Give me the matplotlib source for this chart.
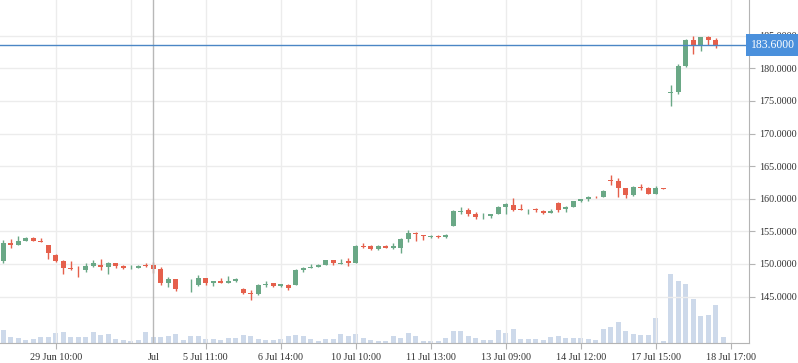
import numpy as np
import matplotlib
matplotlib.use('Agg')
import matplotlib.pyplot as plt
import matplotlib.transforms as mtransforms

plt.rcParams['font.family'] = ['Liberation Serif', 'DejaVu Serif']

# candle data (one row per bar, last bar has volume only)
opens = [150.5, 153.15, 152.9, 153.55, 153.95, 153.5, 152.9, 151.35, 150.45, 149.4,
         149.1, 149.1, 149.7, 149.85, 149.55, 150.15, 149.7, 149.3, 149.4, 149.75,
         149.85, 149.2, 147.0, 147.7, 146.1, 146.7, 146.8, 147.85, 147.1, 147.4,
         147.1, 147.4, 146.15, 145.55, 145.4, 146.8, 147.05, 146.65, 146.8, 146.75,
         149.1, 149.4, 149.55, 149.85, 150.6, 150.05, 150.45, 150.15, 152.8, 152.8,
         152.35, 152.8, 152.45, 152.45, 153.8, 154.8, 154.45, 154.2, 154.35, 154.2,
         155.85, 157.95, 158.2, 157.65, 157.3, 157.4, 157.65, 158.7, 159.1, 158.45,
         158.2, 158.35, 158.15, 157.85, 159.4, 158.4, 158.8, 159.7, 160.0, 160.3,
         160.3, 162.9, 162.7, 161.6, 160.55, 161.8, 161.65, 160.75, 161.65, 176.15,
         176.4, 180.35, 184.3, 183.55, 184.75, 184.3, np.nan]
highs = [153.7, 153.8, 154.3, 154.1, 154.1, 153.9, 152.9, 151.5, 150.6, 150.45,
         149.7, 150.1, 150.65, 150.7, 150.35, 150.2, 149.8, 149.8, 149.9, 150.1,
         150.35, 149.55, 147.95, 147.75, 146.2, 147.7, 148.3, 147.9, 147.45, 147.8,
         148.2, 147.85, 146.35, 146.05, 146.9, 147.35, 147.1, 146.95, 146.9, 149.2,
         149.55, 150.0, 150.05, 150.65, 150.65, 150.75, 150.95, 152.9, 153.2, 152.9,
         152.9, 152.85, 153.25, 154.0, 155.2, 154.85, 154.5, 154.5, 154.5, 154.55,
         158.3, 158.75, 158.5, 158.0, 157.8, 157.7, 158.9, 159.4, 160.1, 159.25,
         158.45, 158.6, 158.25, 158.35, 159.45, 158.95, 159.7, 160.0, 160.45, 160.45,
         161.4, 163.7, 163.2, 161.65, 162.0, 162.25, 161.8, 161.95, 161.65, 177.45,
         180.65, 184.5, 184.95, 184.85, 184.95, 184.6, np.nan]
lows = [150.2, 152.5, 152.9, 153.5, 153.5, 153.35, 150.8, 150.3, 148.5, 149.1,
        148.0, 148.8, 149.5, 149.05, 148.5, 149.45, 149.25, 149.25, 149.3, 149.5,
        148.65, 146.75, 146.5, 145.85, 146.1, 145.75, 146.6, 146.75, 146.65, 147.05,
        147.05, 147.2, 145.45, 144.5, 145.25, 146.45, 146.5, 146.5, 146.0, 146.7,
        148.8, 149.4, 149.5, 149.8, 149.85, 150.05, 149.7, 150.1, 152.4, 152.15,
        152.2, 152.4, 152.35, 151.6, 153.3, 153.55, 153.7, 153.95, 154.0, 154.05,
        155.8, 157.7, 157.4, 156.95, 156.95, 157.05, 157.6, 157.6, 158.05, 158.3,
        157.7, 157.9, 157.6, 157.75, 158.0, 158.0, 158.75, 159.45, 159.7, 160.15,
        160.25, 162.15, 160.3, 160.1, 160.4, 161.4, 160.7, 160.65, 161.55, 174.25,
        176.1, 180.2, 182.2, 182.7, 183.55, 183.15, np.nan]
closes = [153.2, 152.9, 153.5, 153.9, 153.55, 153.4, 151.6, 150.5, 149.4, 149.25,
          149.0, 149.7, 150.15, 149.55, 150.15, 149.7, 149.3, 149.4, 149.7, 149.65,
          149.2, 147.0, 147.7, 146.15, 146.2, 146.8, 147.85, 147.1, 147.35, 147.1,
          147.4, 147.7, 145.55, 145.45, 146.75, 146.95, 146.65, 146.9, 146.35, 149.05,
          149.4, 149.5, 149.85, 150.6, 150.15, 150.15, 150.2, 152.75, 152.65, 152.35,
          152.75, 152.45, 152.8, 153.8, 154.7, 154.55, 154.35, 154.3, 154.2, 154.45,
          158.1, 158.1, 157.65, 157.2, 157.4, 157.65, 158.8, 159.15, 158.3, 158.3,
          158.3, 158.2, 157.8, 158.15, 158.25, 158.75, 159.65, 159.95, 160.25, 160.2,
          161.2, 162.75, 161.7, 160.6, 161.8, 161.65, 160.75, 161.65, 161.55, 176.35,
          180.3, 184.3, 183.55, 184.8, 184.4, 183.6, np.nan]
volumes = [12.7, 5.7, 4.7, 3.0, 3.7, 6.3, 6.3, 9.7, 10.7, 5.7,
           5.7, 5.7, 10.7, 7.7, 9.3, 3.7, 3.0, 2.0, 2.7, 10.7,
           5.7, 5.7, 6.7, 9.0, 2.7, 6.7, 6.7, 3.7, 3.7, 3.0,
           5.0, 5.0, 7.7, 6.7, 4.0, 3.3, 3.3, 4.3, 6.7, 8.3,
           6.7, 4.3, 2.3, 4.3, 3.7, 9.3, 7.3, 9.3, 5.3, 3.3,
           2.3, 2.3, 7.3, 5.3, 10.3, 6.7, 2.3, 2.3, 2.3, 5.3,
           12.3, 12.3, 7.3, 5.3, 3.3, 3.3, 13.3, 10.3, 14.3, 4.3,
           4.3, 3.7, 2.7, 5.7, 6.7, 4.7, 4.7, 4.7, 3.7, 2.7,
           13.7, 15.7, 20.7, 11.7, 8.7, 7.7, 7.7, 24.7, 1.7, 68.7,
           61.7, 58.7, 43.7, 26.7, 27.7, 37.7, 5.7]

tick_pos = [7, 27, 37, 47, 57, 67, 77, 87, 97]
tick_labels = ['29 Jun 10:00', '5 Jul 11:00', '6 Jul 14:00', '10 Jul 10:00',
               '11 Jul 13:00', '13 Jul 09:00', '14 Jul 12:00', '17 Jul 15:00',
               '18 Jul 17:00']
hidden_tick = 17
cross_idx = 20
cross_label = 'Jul'
price_ticks = [145, 150, 155, 160, 165, 170, 175, 180, 185]

up_col = '#6aa886'
down_col = '#e5604c'
vol_col = '#cdd9ea'
grid_col = '#ececec'
axis_col = '#b4b4b4'
text_col = '#333333'

o = np.array(opens); h = np.array(highs); l = np.array(lows); c = np.array(closes)
x = np.arange(len(volumes))
cols = np.array([up_col if cc >= oo else down_col for oo, cc in zip(o, c)])

fig = plt.figure(figsize=(7.98, 3.63), dpi=100)
pos = [0, 20 / 363, 749 / 798, 343 / 363]

# volume underneath
axv = fig.add_axes(pos, zorder=0)
axv.bar(x, volumes, width=0.67, color=vol_col)
axv.set_ylim(0, max(volumes) * 5)
axv.set_xlim(-0.44, 99.43)
axv.axis('off')

ax = fig.add_axes(pos, zorder=1)
ax.patch.set_alpha(0)
ax.set_xlim(-0.44, 99.43)
ax.set_ylim(137.87, 190.48)

ok = ~np.isnan(o)
body_lo = np.minimum(o, c)
body_h = np.maximum(np.abs(c - o), 0.12)
ax.vlines(x[ok], l[ok], h[ok], colors=cols[ok], lw=1, zorder=3)
ax.bar(x[ok], body_h[ok], bottom=body_lo[ok], width=0.67,
       color=cols[ok], linewidth=0, zorder=4)

# grid
ax.set_yticks(price_ticks)
ax.set_yticklabels(['%.4f' % p for p in price_ticks])
ax.set_xticks(tick_pos)
ax.set_xticklabels(tick_labels)
ax.set_xticks([cross_idx], [cross_label], minor=True)
ax.grid(True, which='major', color=grid_col, lw=1, zorder=0)
ax.axvline(hidden_tick, color=grid_col, lw=1, zorder=0)
ax.set_axisbelow(True)

ax.yaxis.tick_right()
for s in ['left', 'top']:
    ax.spines[s].set_visible(False)
for s in ['right', 'bottom']:
    ax.spines[s].set_color(axis_col)
ax.tick_params(axis='both', which='major', length=4, color=axis_col,
               labelsize=7.3, labelcolor=text_col, pad=3)
ax.tick_params(axis='x', which='minor', length=0, labelsize=7.3,
               labelcolor=text_col, pad=7)

# crosshair and last price line
ax.axvline(cross_idx, color='#b8b8b8', lw=1, zorder=5)
last = c[ok][-1]
ax.axhline(last, color='#4b86c5', lw=1, zorder=5)
trans = mtransforms.blended_transform_factory(ax.transAxes, ax.transData)
ax.text(1.003, last, '%.4f' % last, transform=trans, ha='left', va='center',
        fontsize=8.4, color='white', zorder=10, clip_on=False,
        bbox=dict(boxstyle='square,pad=0.45', fc='#4a90dc', ec='none'))

fig.savefig('out.png', dpi=100)
